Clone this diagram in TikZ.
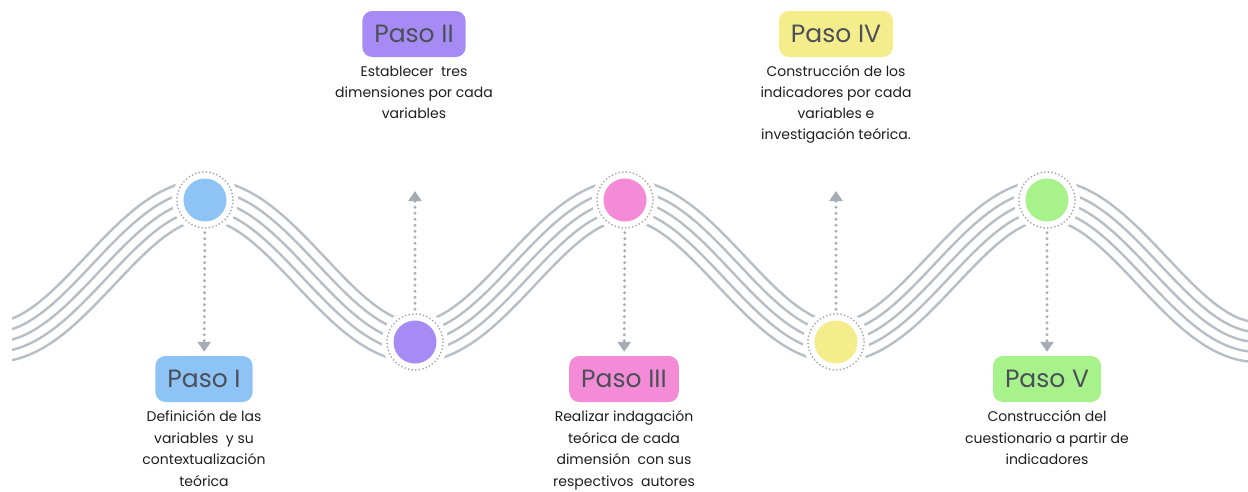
\documentclass[tikz,border=0pt]{standalone}
\usepackage{fontspec}
\setmainfont{Poppins}
\usetikzlibrary{arrows.meta,positioning}
\definecolor{wavegray}{RGB}{184,190,197}
\definecolor{linkgray}{RGB}{165,172,180}
\definecolor{pasoA}{RGB}{142,195,245}
\definecolor{pasoB}{RGB}{167,139,245}
\definecolor{pasoC}{RGB}{243,139,215}
\definecolor{pasoD}{RGB}{245,236,140}
\definecolor{pasoE}{RGB}{168,242,140}
\definecolor{labelgray}{RGB}{74,79,88}
\definecolor{textdark}{RGB}{30,30,34}

\tikzset{
  wave/.style={wavegray, line width=2.4pt},
  ring/.style={linkgray, line width=2pt, dash pattern=on 0pt off 3.6pt, line cap=round},
  dot/.style={circle, minimum size=43pt, inner sep=0pt},
  link/.style={linkgray, line width=3.2pt, dash pattern=on 0pt off 6pt, line cap=round,
    -{Triangle[width=13pt,length=10pt,line cap=butt]}, shorten <=11pt},
  paso/.style={rounded corners=10pt, minimum height=46pt, inner xsep=12pt,
    text=labelgray, font=\fontsize{25}{25}\selectfont},
  desc/.style={align=center, text=textdark, font=\fontsize{14}{21}\selectfont},
  desclow/.style={desc, inner ysep=0pt, font=\fontsize{14}{21.6}\selectfont},
  declare function={
    wa(\t)=0.855107*(\t-205);
    wf(\t)=271-71*cos(wa(\t));
    ws(\t)=1.0596*sin(wa(\t));
    wr(\t)=sqrt(1+ws(\t)*ws(\t));
  }
}

\begin{document}
\begin{tikzpicture}[x=1pt, y=-1pt]
  \useasboundingbox (0,0) rectangle (1248,491);

  \begin{scope}
    \clip (12,0) rectangle (1248,491);
    \foreach \d in {-20,-10,0,10,20}
      \draw[wave] plot[domain=-20:1280, samples=320, smooth, variable=\t]
        ({\t-\d*ws(\t)/wr(\t)}, {wf(\t)+\d/wr(\t)});
  \end{scope}

  \foreach \n/\x/\y/\c in {1/205/200/pasoA, 2/415/342/pasoB, 3/625/200/pasoC,
                           4/836/342/pasoD, 5/1047/200/pasoE} {
    \fill[white] (\x,\y) circle (33);
    \draw[ring] (\x,\y) circle (28);
    \node[dot, fill=\c] (dot\n) at (\x,\y) {};
  }

  \node[paso, fill=pasoA] (paso1) at (204,379) {Paso I};
  \node[paso, fill=pasoB] (paso2) at (414,34) {Paso II};
  \node[paso, fill=pasoC] (paso3) at (624,379) {Paso III};
  \node[paso, fill=pasoD] (paso4) at (836,34) {Paso IV};
  \node[paso, fill=pasoE] (paso5) at (1047,379) {Paso V};

  \node[desclow, below=8pt of paso1] (txt1) {Definición de las\\variables~ y su\\contextualización\\teórica};
  \node[desc, below=5pt of paso2] (txt2) {Establecer~ tres\\dimensiones por cada\\variables};
  \node[desclow, below=8pt of paso3] (txt3) {Realizar indagación\\teórica de cada\\dimensión~ con sus\\respectivos~ autores};
  \node[desc, below=5pt of paso4] (txt4) {Construcción de los\\indicadores por cada\\variables e\\investigación teórica.};
  \node[desclow, below=8pt of paso5] (txt5) {Construcción del\\cuestionario a partir de\\indicadores};

  \coordinate (tip2) at (415,191);
  \coordinate (tip4) at (836,191);

  \draw[link, shorten >=4pt] (dot1) -- (paso1);
  \draw[link, shorten >=4pt] (dot3) -- (paso3);
  \draw[link, shorten >=4pt] (dot5) -- (paso5);
  \draw[link] (dot2) -- (tip2);
  \draw[link] (dot4) -- (tip4);
\end{tikzpicture}
\end{document}
